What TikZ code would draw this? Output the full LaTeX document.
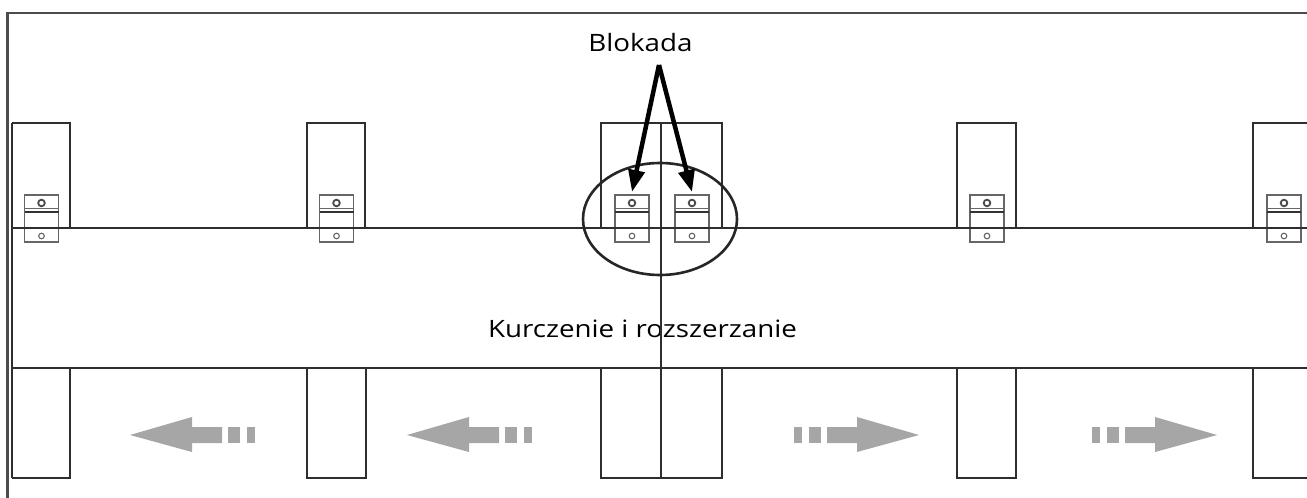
\documentclass[tikz,border=0pt]{standalone}
\usepackage{fontspec}
\setmainfont{Open Sans}[FakeStretch=1.16]
\usetikzlibrary{arrows.meta}
\tikzset{
  plate/.style={draw=black!82, line width=2.5bp},
  hinge/.style={draw=black!60, line width=1.1bp},
  blokarrow/.style={draw=black, line width=4.5bp, -{Triangle[length=22bp,width=16bp]}},
  movearrow/.style={fill=black!35, draw=none},
}
\begin{document}
\begin{tikzpicture}[x=1bp,y=-1bp,font=\fontsize{24}{28}\selectfont]
\useasboundingbox (0,0) rectangle (1307,498);
% frame
\draw[line width=2.8bp, black!70] (7.5,498) -- (7.5,13) -- (1307,13);
% band
\draw[plate] (12,228) -- (1307,228);
\draw[plate] (12,368) -- (1307,368);
\draw[plate] (12,123) -- (12,478);
% upper plates
\draw[plate] (12,123) -- (70,123) -- (70,228);
\draw[plate] (307,228) -- (307,123) -- (365,123) -- (365,228);
\draw[plate] (601,228) -- (601,123) -- (722,123) -- (722,228);
\draw[plate] (957,228) -- (957,123) -- (1016,123) -- (1016,228);
\draw[plate] (1307,123) -- (1253,123) -- (1253,228);
% lower plates
\draw[plate] (12,478) -- (70,478) -- (70,368);
\draw[plate] (307,368) -- (307,478) -- (366,478) -- (366,368);
\draw[plate] (601,368) -- (601,478) -- (722,478) -- (722,368);
\draw[plate] (957,368) -- (957,478) -- (1016,478) -- (1016,368);
\draw[plate] (1253,368) -- (1253,478) -- (1307,478);
% labels
\node[anchor=base] (blokada) at (640.5,52) {Blokada};
\node[anchor=base] (ruch) at (642.5,337) {Kurczenie i rozszerzanie};
\draw[plate] (661,123) -- (661,478);
% hinges
\foreach \x/\n in {41.5/h1, 336.5/h2, 632/h3, 692/h4, 987/h5, 1284/h6} {
  \coordinate (\n) at (\x,192);
  \filldraw[hinge, fill=white] (\x-17,195) rectangle (\x+17,242);
  \draw[hinge] (\x-17,208.5) -- (\x+17,208.5);
  \draw[black!80, line width=2bp] (\x-17,212) -- (\x+17,212);
  \draw[black!70, line width=1.8bp] (\x,203) circle (3.3);
  \draw[hinge] (\x,236) circle (2.8);
}
\draw[plate] (12,228) -- (1307,228);
\draw[plate] (661,195) -- (661,242);
\draw[black!85, line width=2.6bp] (660,219) ellipse [x radius=77, y radius=56];
% blockade arrows
\coordinate (apex) at (659,65);
\draw[blokarrow] (apex) -- (h3);
\draw[blokarrow] (apex) -- (h4);
% movement arrows
\foreach \t/\d in {130/-1, 407/-1, 919/1, 1217/1} {
  \fill[movearrow] (\t,435) -- ({\t-\d*62},417) -- ({\t-\d*62},427) -- ({\t-\d*92},427)
    -- ({\t-\d*92},443) -- ({\t-\d*62},443) -- ({\t-\d*62},452) -- cycle;
  \fill[movearrow] ({\t-\d*98},427) rectangle ({\t-\d*110},443);
  \fill[movearrow] ({\t-\d*117},427) rectangle ({\t-\d*125},443);
}
\end{tikzpicture}
\end{document}
